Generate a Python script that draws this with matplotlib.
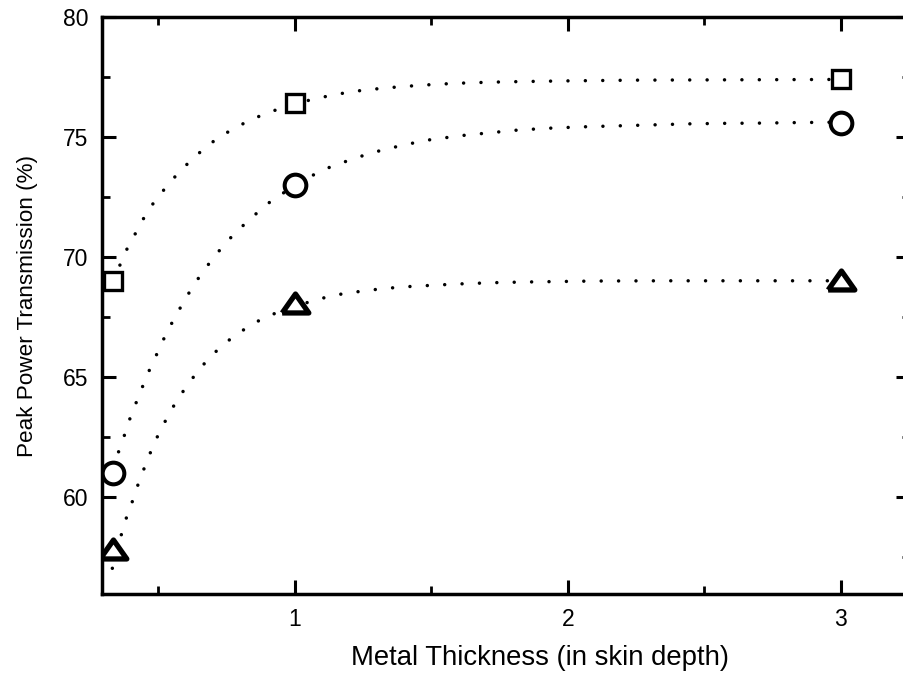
import matplotlib
matplotlib.use("Agg")
import matplotlib.pyplot as plt
from matplotlib.markers import MarkerStyle
from matplotlib.ticker import MultipleLocator

# measured points (x = metal thickness in skin depths)
thickness = [1 / 3, 1.0, 3.0]
square_pts = [69.0, 76.4, 77.4]
circle_pts = [61.0, 73.0, 75.6]
triangle_pts = [57.85, 68.1, 69.05]

# fitted curves
square_fit_x = [0.333, 0.359, 0.384, 0.414, 0.444, 0.481, 0.524, 0.573, 0.630, 0.691,
                0.756, 0.819, 0.882, 0.948, 1.0, 1.073, 1.137, 1.201, 1.265, 1.330,
                1.39, 1.52, 1.64, 1.77, 2.0, 2.25, 2.5, 2.75, 3.0]
square_fit_y = [69.0, 69.67, 70.32, 70.95, 71.58, 72.24, 72.86, 73.51, 74.15, 74.74,
                75.22, 75.61, 75.93, 76.20, 76.37, 76.60, 76.74, 76.88, 76.97, 77.04,
                77.10, 77.20, 77.26, 77.30, 77.34, 77.37, 77.38, 77.39, 77.40]

circle_fit_x = [0.333, 0.347, 0.367, 0.386, 0.405, 0.429, 0.451, 0.475, 0.502, 0.527,
                0.557, 0.589, 0.622, 0.660, 0.703, 0.750, 0.805, 0.866, 0.927, 1.0,
                1.055, 1.118, 1.183, 1.248, 1.311, 1.373, 1.437, 1.501, 1.564, 1.626,
                1.690, 1.816, 1.944, 2.069, 2.197, 2.322, 2.449, 2.575, 2.703, 2.828, 3.0]
circle_fit_y = [61.2, 61.68, 62.28, 62.96, 63.58, 64.22, 64.88, 65.50, 66.15, 66.78,
                67.42, 68.07, 68.70, 69.35, 69.99, 70.64, 71.26, 71.89, 72.47, 72.95,
                73.35, 73.70, 73.97, 74.22, 74.43, 74.60, 74.76, 74.90, 74.99, 75.08,
                75.15, 75.29, 75.375, 75.43, 75.47, 75.51, 75.55, 75.57, 75.58, 75.60, 75.62]

triangle_fit_x = [0.331, 0.362, 0.377, 0.398, 0.416, 0.436, 0.459, 0.481, 0.508, 0.538,
                  0.570, 0.609, 0.652, 0.703, 0.766, 0.829, 0.893, 1.0, 1.085, 1.149,
                  1.214, 1.277, 1.340, 1.403, 1.466, 1.592, 1.721, 1.845, 2.099, 2.352,
                  2.604, 2.860, 3.0]
triangle_fit_y = [57.03, 58.35, 58.97, 59.60, 60.22, 60.875, 61.51, 62.17, 62.79, 63.45,
                  64.07, 64.71, 65.36, 65.99, 66.61, 67.10, 67.51, 67.95, 68.24, 68.42,
                  68.53, 68.625, 68.70, 68.76, 68.80, 68.875, 68.93, 68.96, 69.0, 69.01,
                  69.01, 69.01, 69.01]

plt.rcParams["font.family"] = ["Liberation Sans", "DejaVu Sans"]

fig = plt.figure(figsize=(9.04, 6.73), dpi=100)
ax = fig.add_axes([0.1128, 0.1174, 0.8938, 0.8573])

dots = dict(color="black", lw=2.5, linestyle=(0, (0.01, 5.0)),
            dash_capstyle="round", zorder=2)
ax.plot(square_fit_x, square_fit_y, **dots)
ax.plot(circle_fit_x, circle_fit_y, **dots)
ax.plot(triangle_fit_x, triangle_fit_y, **dots)

tri = MarkerStyle([(-1, -0.71), (1, -0.71), (0, 0.71), (-1, -0.71)], joinstyle="round")
ax.plot(thickness, square_pts, ls="none", marker="s", ms=13.5, mew=2.4,
        mfc="white", mec="black", zorder=3)
ax.plot(thickness, circle_pts, ls="none", marker="o", ms=15.6, mew=2.9,
        mfc="white", mec="black", zorder=3)
ax.plot(thickness, triangle_pts, ls="none", marker=tri, ms=19.2, mew=3.8,
        mfc="white", mec="black", zorder=3)

ax.set_xlim(0.293, 3.253)
ax.set_ylim(55.96, 80)
ax.set_xticks([1, 2, 3])
ax.set_yticks([60, 65, 70, 75, 80])
ax.xaxis.set_minor_locator(MultipleLocator(0.5))
ax.yaxis.set_minor_locator(MultipleLocator(2.5))
ax.tick_params(which="both", direction="in", top=True, right=True, labelsize=16.5)
ax.tick_params(which="major", length=10, width=2.2, pad=10)
ax.tick_params(which="minor", length=6, width=2.0)
for s in ax.spines.values():
    s.set_linewidth(2.5)

ax.set_xlabel("Metal Thickness (in skin depth)", fontsize=19.8)
ax.xaxis.set_label_coords(0.542, -0.089)
ax.set_ylabel("Peak Power Transmission (%)", fontsize=16.2, labelpad=18)

fig.savefig("out.png", dpi=100)
